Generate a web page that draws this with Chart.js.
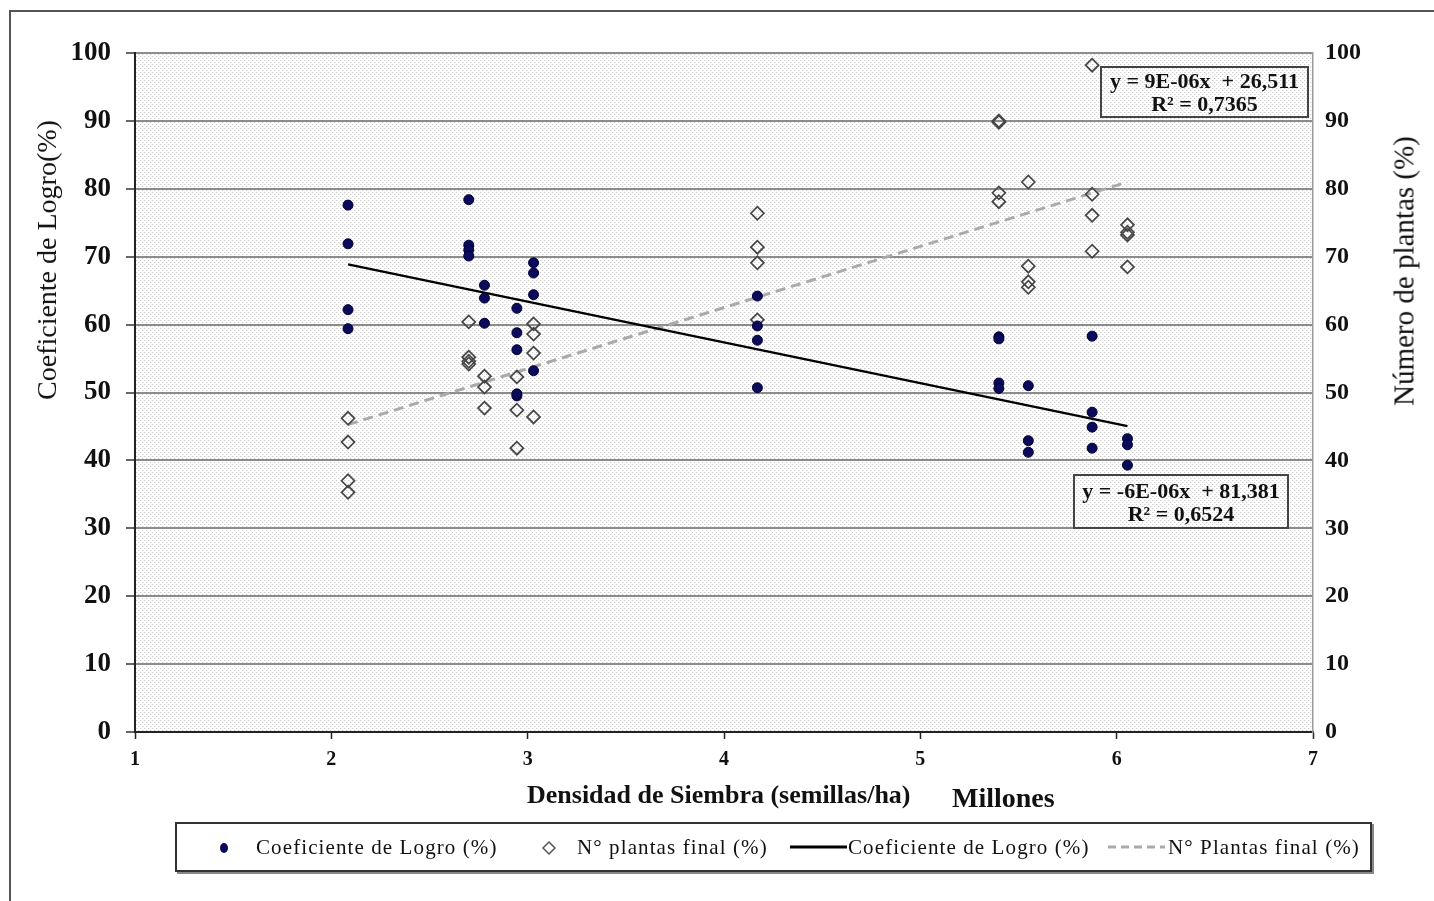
<!DOCTYPE html>
<html>
<head>
<meta charset="utf-8">
<script src="https://cdn.jsdelivr.net/npm/chart.js@4/dist/chart.umd.min.js"></script>
<style>
  body { margin: 0; background: #fff; font-family: "Liberation Serif", "DejaVu Serif", serif; }
  #wrap { position: relative; width: 1434px; height: 901px; overflow: hidden; }
  #frame { position: absolute; left: 9px; top: 10px; width: 1440px; height: 900px; border: 2px solid #555; box-sizing: border-box; }
  canvas { position: absolute; left: 0; top: 0; }
  .lbl { position: absolute; white-space: nowrap; color: #111; }
  .ytitle { position: absolute; white-space: nowrap; transform: translate(-50%, -50%) rotate(-90deg); color: #111; }
  .eq { position: absolute; border: 2px solid #444; text-align: center; font-weight: bold; font-size: 22px; line-height: 23px; color: #111; box-sizing: border-box; padding-top: 1px; }
  #legend { position: absolute; left: 175px; top: 822px; width: 1197px; height: 50px; border: 2px solid #333; box-shadow: 2px 2px 0 #888; box-sizing: border-box; }
  .li { position: absolute; top: 11px; font-size: 21px; letter-spacing: 1.1px; color: #111; white-space: nowrap; }
</style>
</head>
<body>
<div id="wrap">
  <div id="frame"></div>
  <canvas id="chart" width="1434" height="901"></canvas>

  <div class="ytitle" style="left:47px; top:260px; font-size:28px;">Coeficiente de Logro(%)</div>
  <div class="ytitle" style="left:1404px; top:271px; font-size:29px;">Número de plantas (%)</div>
  <div class="lbl" style="left:527px; top:780px; font-size:26px; font-weight:bold;">Densidad de Siembra (semillas/ha)</div>
  <div class="lbl" style="left:952px; top:782px; font-size:28px; font-weight:bold;">Millones</div>

  <div class="eq" style="left:1100px; top:66px; width:209px; height:52px;">y = 9E-06x&nbsp; + 26,511<br>R² = 0,7365</div>
  <div class="eq" style="left:1073px; top:474px; width:216px; height:55px; padding-top:3px;">y = -6E-06x&nbsp; + 81,381<br>R² = 0,6524</div>

  <div id="legend">
    <svg style="position:absolute; left:40px; top:17px;" width="14" height="14"><ellipse cx="7" cy="7" rx="4" ry="5" fill="#0b0b5a"/></svg>
    <div class="li" style="left:79px;">Coeficiente de Logro (%)</div>
    <svg style="position:absolute; left:364px; top:16px;" width="16" height="16"><polygon points="8,2 14,8 8,14 2,8" fill="none" stroke="#555" stroke-width="1.5"/></svg>
    <div class="li" style="left:400px;">N° plantas final (%)</div>
    <svg style="position:absolute; left:613px; top:18px;" width="58" height="10"><line x1="0" y1="5" x2="57" y2="5" stroke="#000" stroke-width="3"/></svg>
    <div class="li" style="left:671px;">Coeficiente de Logro (%)</div>
    <svg style="position:absolute; left:931px; top:18px;" width="58" height="10"><line x1="0" y1="5" x2="57" y2="5" stroke="#aaa" stroke-width="3" stroke-dasharray="8,5"/></svg>
    <div class="li" style="left:991px;">N° Plantas final (%)</div>
  </div>
</div>

<script>
// densidad de siembra (millones de semillas/ha)
const coefX = [2.085, 2.085, 2.085, 2.085,
               2.70, 2.70, 2.70, 2.70,
               2.78, 2.78, 2.78,
               2.945, 2.945, 2.945, 2.945, 2.945,
               3.03, 3.03, 3.03, 3.03,
               4.17, 4.17, 4.17, 4.17,
               5.40, 5.40, 5.40, 5.40,
               5.55, 5.55, 5.55,
               5.875, 5.875, 5.875, 5.875,
               6.055, 6.055, 6.055];
const coefY = [77.6, 71.9, 62.2, 59.4,
               78.4, 71.7, 71.0, 70.1,
               65.8, 63.9, 60.2,
               62.4, 58.8, 56.3, 49.5, 49.8,
               69.1, 67.6, 64.4, 53.2,
               64.2, 59.8, 57.7, 50.7,
               58.2, 57.9, 51.4, 50.6,
               51.0, 42.9, 41.2,
               58.3, 47.1, 44.9, 41.8,
               43.2, 42.3, 39.3];

const plantasX = [2.085, 2.085, 2.085, 2.085,
                  2.70, 2.70, 2.70, 2.70,
                  2.78, 2.78, 2.78,
                  2.945, 2.945, 2.945,
                  3.03, 3.03, 3.03, 3.03,
                  4.17, 4.17, 4.17, 4.17,
                  5.40, 5.40, 5.40, 5.40,
                  5.55, 5.55, 5.55, 5.55,
                  5.875, 5.875, 5.875, 5.875,
                  6.055, 6.055, 6.055, 6.055];
const plantasY = [46.2, 42.7, 37.0, 35.3,
                  60.4, 55.2, 54.6, 54.2,
                  52.4, 50.8, 47.7,
                  52.3, 47.4, 41.8,
                  60.1, 58.6, 55.8, 46.4,
                  76.4, 71.4, 69.1, 60.7,
                  90.0, 89.8, 79.4, 78.1,
                  81.0, 68.6, 66.3, 65.5,
                  98.2, 79.2, 76.1, 70.8,
                  74.7, 73.6, 73.2, 68.5];

// lineas de tendencia (x en millones): [coeficiente, plantas]
const trendSlope = [-6, 9];
const trendIntercept = [81.381, 26.511];

const xTicks = [1, 2, 3, 4, 5, 6, 7];

function pts(xs, ys) {
    return xs.map((x, i) => ({ x: x, y: ys[i] }));
}
function trend(xs, k) {
    let a = Math.min(...xs), b = Math.max(...xs);
    return [a, b].map(x => ({ x: x, y: trendSlope[k] * x + trendIntercept[k] }));
}

// fondo punteado del area de trazado
const pat = document.createElement('canvas');
pat.width = 4; pat.height = 4;
const pc = pat.getContext('2d');
pc.fillStyle = '#ffffff'; pc.fillRect(0, 0, 4, 4);
pc.fillStyle = '#d0d0d0';
pc.fillRect(0, 0, 1, 1); pc.fillRect(2, 2, 1, 1);
pc.fillStyle = '#eeeeee';
pc.fillRect(1, 0, 1, 1); pc.fillRect(3, 2, 1, 1);

const bgPlugin = {
    id: 'bgPattern',
    beforeDraw(chart) {
        const ctx = chart.ctx, a = chart.chartArea;
        ctx.save();
        ctx.fillStyle = ctx.createPattern(pat, 'repeat');
        ctx.fillRect(a.left, a.top, a.right - a.left, a.bottom - a.top);
        ctx.restore();
    }
};

const serif = '"Liberation Serif", "Times New Roman", serif';

new Chart(document.getElementById('chart'), {
    type: 'scatter',
    data: {
        datasets: [
            {
                label: 'Coeficiente de Logro (%)',
                data: pts(coefX, coefY),
                yAxisID: 'y',
                pointStyle: 'circle',
                pointRadius: 5,
                backgroundColor: '#0b0b5a',
                borderColor: '#00003a',
                borderWidth: 1
            },
            {
                label: 'N° plantas final (%)',
                data: pts(plantasX, plantasY),
                yAxisID: 'y2',
                pointStyle: 'rectRot',
                pointRadius: 6.5,
                backgroundColor: 'rgba(255,255,255,0)',
                borderColor: '#454545',
                borderWidth: 1.7
            },
            {
                label: 'Coeficiente de Logro (%)',
                data: trend(coefX, 0),
                yAxisID: 'y',
                showLine: true,
                pointRadius: 0,
                borderColor: '#000',
                borderWidth: 2.5
            },
            {
                label: 'N° Plantas final (%)',
                data: trend(plantasX, 1),
                yAxisID: 'y2',
                showLine: true,
                pointRadius: 0,
                borderColor: '#aaaaaa',
                borderWidth: 3,
                borderDash: [10, 6]
            }
        ]
    },
    options: {
        responsive: false,
        animation: false,
        layout: { padding: { top: 53, left: 0, right: 0, bottom: 129 } },
        plugins: { legend: { display: false }, tooltip: { enabled: false } },
        scales: {
            x: {
                type: 'linear',
                min: 1, max: 7,
                afterFit(s) { s.height = 40; },
                afterBuildTicks(s) { s.ticks = xTicks.map(v => ({ value: v })); },
                grid: { drawOnChartArea: false, tickLength: 7, tickColor: '#222', tickWidth: 1.5 },
                border: { color: '#222', width: 2 },
                ticks: { color: '#111', padding: 9, font: { family: serif, size: 20, weight: 'bold' } }
            },
            y: {
                position: 'left',
                min: 0, max: 100,
                afterFit(s) { s.width = 135; },
                grid: { color: '#8c8c8c', lineWidth: 2, tickLength: 9, tickColor: '#333', tickWidth: 1.5 },
                border: { color: '#222', width: 2 },
                ticks: { stepSize: 10, color: '#111', padding: 15, font: { family: serif, size: 27, weight: 'bold' } }
            },
            y2: {
                position: 'right',
                min: 0, max: 100,
                afterFit(s) { s.width = 121; },
                grid: { drawOnChartArea: false, drawTicks: false },
                border: { color: '#9a9a9a', width: 1.5 },
                ticks: { stepSize: 10, color: '#111', padding: 12, font: { family: serif, size: 24, weight: 'bold' } }
            }
        }
    },
    plugins: [bgPlugin]
});
</script>
</body>
</html>
